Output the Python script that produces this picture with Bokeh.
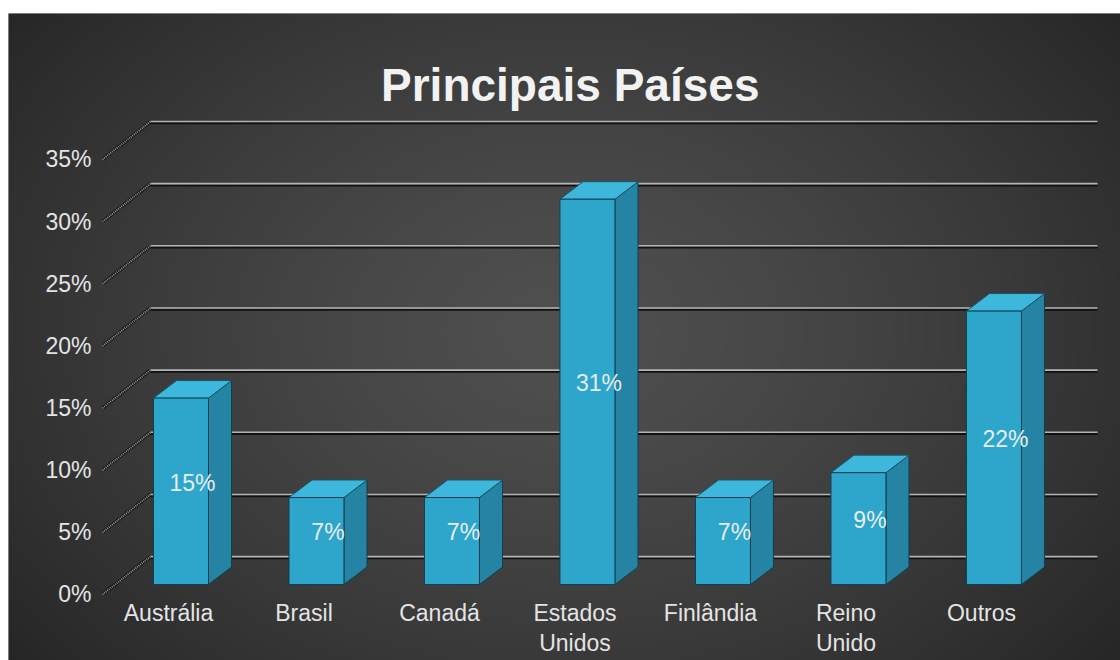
import numpy as np
from bokeh.plotting import figure
from bokeh.models import Range1d, ColumnDataSource
from bokeh.core.properties import value
from bokeh.embed import file_html
from bokeh.resources import INLINE

# ---------------- data ----------------
categories = ["Austrália", "Brasil", "Canadá", "Estados\nUnidos", "Finlândia", "Reino\nUnido", "Outros"]
shares = [15, 7, 7, 31, 7, 9, 22]
share_labels = ["15%", "7%", "7%", "31%", "7%", "9%", "22%"]
y_ticks = [0, 5, 10, 15, 20, 25, 30, 35]
y_tick_labels = ["0%", "5%", "10%", "15%", "20%", "25%", "30%", "35%"]
chart_title = "Principais Países"

# ---------------- style / projection ----------------
FONT = "Liberation Sans"
X0, X1 = -1.181, 7.026
Y0, Y1 = -5.31, 46.74
WALL_DY = 3.05          # back wall offset (value units)
WALL_X0, WALL_X1 = -0.133, 6.856
AXIS_FRONT_X = -0.487
BAR_OFF, BAR_W = -0.111, 0.406
BAR_BASE = 0.8
DEPTH_DX, DEPTH_DY = 0.17, 1.41

p = figure(width=1120, height=660, x_range=Range1d(X0, X1), y_range=Range1d(Y0, Y1),
           output_backend="svg", toolbar_location=None, title=None,
           x_axis_type=None, y_axis_type=None,
           min_border_left=8, min_border_top=13, min_border_right=0, min_border_bottom=0)
p.grid.visible = False
p.outline_line_color = None
p.border_fill_color = "white"
p.background_fill_color = "#333333"

# radial gradient background
H, W = 324, 556
yy, xx = np.mgrid[0:H, 0:W].astype(float)
cx, cy = 278.0, 158.0
r = np.sqrt(((xx - cx) / (W * 0.6)) ** 2 + ((yy - cy) / (H * 0.75)) ** 2)
g = np.clip(80 - 38 * r ** 1.3, 36, 90).astype(np.uint8)
g = np.flipud(g)
img = np.empty((H, W), dtype=np.uint32)
view = img.view(dtype=np.uint8).reshape((H, W, 4))
view[..., 0] = g
view[..., 1] = g
view[..., 2] = g
view[..., 3] = 255
p.image_rgba(image=[img], x=X0, y=Y0, dw=X1 - X0, dh=Y1 - Y0)

# back wall gridlines
wall_y = [v + WALL_DY for v in y_ticks]
grid_src = ColumnDataSource(dict(
    x0=[WALL_X0] * len(y_ticks), x1=[WALL_X1] * len(y_ticks),
    y=wall_y, ys=[w - 0.14 for w in wall_y]))
p.segment(x0="x0", y0="ys", x1="x1", y1="ys", source=grid_src, line_color="#111111", line_width=2)
p.segment(x0="x0", y0="y", x1="x1", y1="y", source=grid_src, line_color="#b4b4b4", line_width=1.6)

# diagonals (floor/wall edge at each tick)
diag_src = ColumnDataSource(dict(
    x0=[AXIS_FRONT_X] * len(y_ticks), y0=y_ticks,
    x1=[WALL_X0] * len(y_ticks), y1=wall_y))
p.segment(x0="x0", y0="y0", x1="x1", y1="y1", source=diag_src, line_color="#141414", line_width=3.5)
p.segment(x0="x0", y0="y0", x1="x1", y1="y1", source=diag_src, line_color="#9a9a9a",
          line_width=2, line_dash="1 1")

# bars
idx = list(range(len(categories)))
L = [i + BAR_OFF for i in idx]
R = [l + BAR_W for l in L]
T = [BAR_BASE + v for v in shares]
B = [BAR_BASE] * len(shares)

side_xs = [[r_, r_ + DEPTH_DX, r_ + DEPTH_DX, r_] for r_ in R]
side_ys = [[BAR_BASE, BAR_BASE + DEPTH_DY, t + DEPTH_DY, t] for t in T]
top_xs = [[l, l + DEPTH_DX, r_ + DEPTH_DX, r_] for l, r_ in zip(L, R)]
top_ys = [[t, t + DEPTH_DY, t + DEPTH_DY, t] for t in T]

p.patches(xs=side_xs, ys=side_ys, fill_color="#2583a4", line_color="#123f4e", line_width=1)
p.patches(xs=top_xs, ys=top_ys, fill_color="#3db7dc", line_color="#1a5668", line_width=1)
p.quad(left=L, right=R, bottom=B, top=T, fill_color="#2ea5ca", line_color="#123f4e", line_width=1)

# value labels
p.text(x=[l + BAR_W / 2 + DEPTH_DX / 2 for l in L],
       y=[BAR_BASE + v / 2 + DEPTH_DY / 2 for v in shares],
       text=share_labels, text_align="center", text_baseline="middle",
       text_font=value(FONT), text_font_size="23px", text_color="#e6eef2")

# y tick labels
p.text(x=[-0.568] * len(y_ticks), y=y_ticks, text=y_tick_labels,
       text_align="right", text_baseline="middle",
       text_font=value(FONT), text_font_size="23px", text_color="#e4e4e4")

# category labels
p.text(x=idx, y=[-0.48] * len(idx), text=categories,
       text_align="center", text_baseline="top", text_line_height=1.12,
       text_font=value(FONT), text_font_size="23px", text_color="#e4e4e4")

# title
p.text(x=[sum(idx) / len(idx) - 0.035], y=[40.95], text=[chart_title],
       text_align="center", text_baseline="alphabetic",
       text_font=value(FONT), text_font_size="46px", text_font_style="bold",
       text_color="#f2f2f2")

open("out.html", "w").write(file_html(p, INLINE))
